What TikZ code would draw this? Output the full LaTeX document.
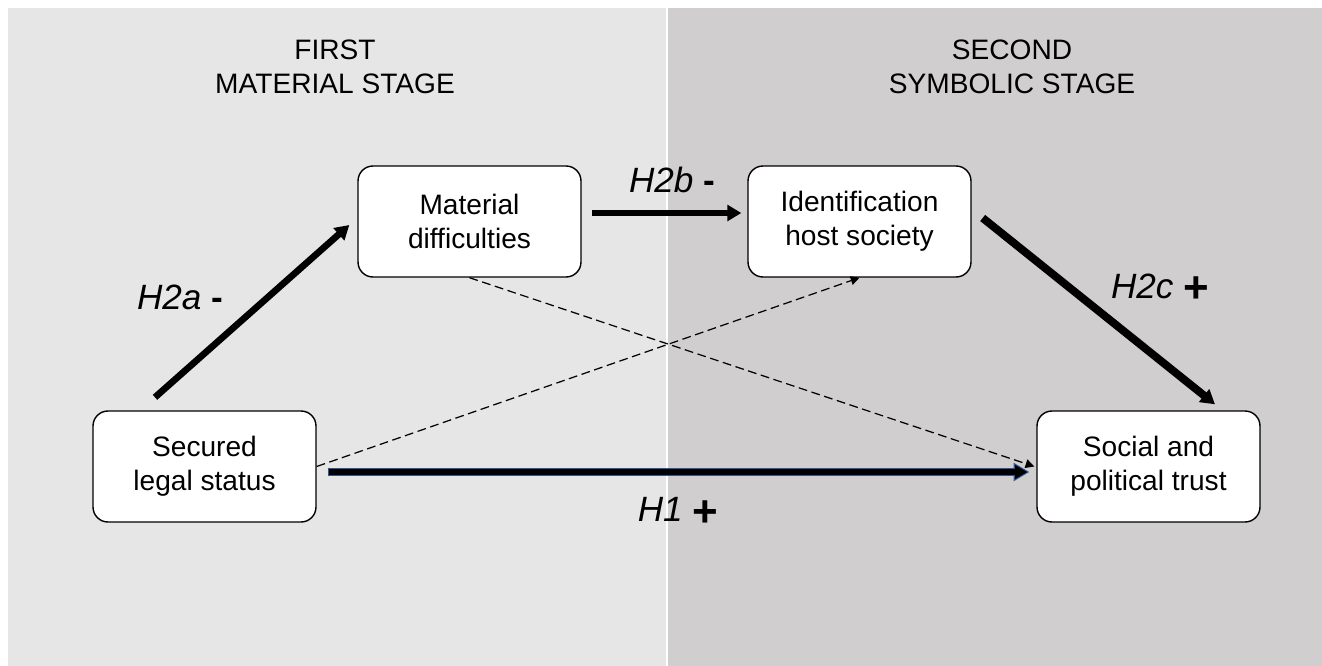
\documentclass[tikz,border=0pt]{standalone}
\usepackage{fontspec}
\setmainfont{Liberation Sans}
\usetikzlibrary{arrows.meta}
\definecolor{leftgray}{HTML}{E6E6E6}
\definecolor{rightgray}{HTML}{D0CECE}
\definecolor{hblue}{HTML}{2F5597}
\newcommand{\plussign}{\raisebox{-2.5pt}{\fontsize{25}{26}\selectfont\upshape\bfseries +}}
\tikzset{
  box/.style={draw, fill=white, line width=0.8pt, rounded corners=8.5pt,
    minimum width=4.46cm, minimum height=2.22cm, align=center,
    font=\fontsize{16}{19.5}\selectfont},
  stage/.style={align=center, font=\fontsize{16}{19.5}\selectfont},
  hyp/.style={font=\fontsize{20}{24}\selectfont},
  path/.style={-{Triangle[length=8pt,width=9pt]}, line width=3.8pt},
  indirect/.style={-{Triangle[length=5pt,width=5pt]}, dash pattern=on 5pt off 2.6pt, line width=0.7pt}
}
\begin{document}
\begin{tikzpicture}[x=0.02cm,y=-0.02cm]
      \useasboundingbox (0,0) rectangle (1322,666);
      \fill[leftgray] (8,8) rectangle (666,670);
      \fill[rightgray] (668,8) rectangle (1330,670);
      \node[stage] (first) at (335,67) {FIRST\\MATERIAL STAGE};
      \node[stage] (second) at (1012,67) {SECOND\\SYMBOLIC STAGE};
      \def \Boxes{
        md/469.5/221.5/Material\\difficulties,
        id/859.5/221.5/Identification\\host society,
        sec/204.5/466.5/Secured\\legal status,
        st/1148.5/466.5/Social and\\political trust}
      \foreach \id / \x / \y / \t in \Boxes{
        \node[box] (\id) at (\x, \y) {\t};
      }
      % indirect paths
      \draw[indirect] (md.south) -- ([shift={(-2,0)}]st.west);
      \draw[indirect] (sec.east) -- (id.south);
      % hypotheses
      \draw[path] ([shift={(-49.5,-13)}]sec.north) -- ([shift={(-8,3.5)}]md.west);
      \draw[path, line width=3.4pt] ([shift={(10,-8.5)}]md.east) -- ([shift={(-6,-8.5)}]id.west);
      \draw[path, line width=4.5pt] ([shift={(11,-3.5)}]id.east) -- ([shift={(66.5,-6)}]st.north);
      \draw[path, hblue, line width=4.6pt, -{Triangle[length=9pt,width=10pt]}] ([shift={(11,5.5)}]sec.east) -- ([shift={(-7,5.5)}]st.west);
      \draw[path, black, line width=3.2pt, -{Triangle[length=7pt,width=7.5pt]}] ([shift={(12,5.5)}]sec.east) -- ([shift={(-9,5.5)}]st.west);
      \node[hyp] (h2a) at (180,297) {\itshape H2a \upshape\bfseries -};
      \node[hyp] (h2b) at (672,180) {\itshape H2b \upshape\bfseries -};
      \node[hyp] (h2c) at (1160,288) {\itshape H2c \plussign};
      \node[hyp] (h1) at (678,512) {\itshape H1 \plussign};
    \end{tikzpicture}
\end{document}
